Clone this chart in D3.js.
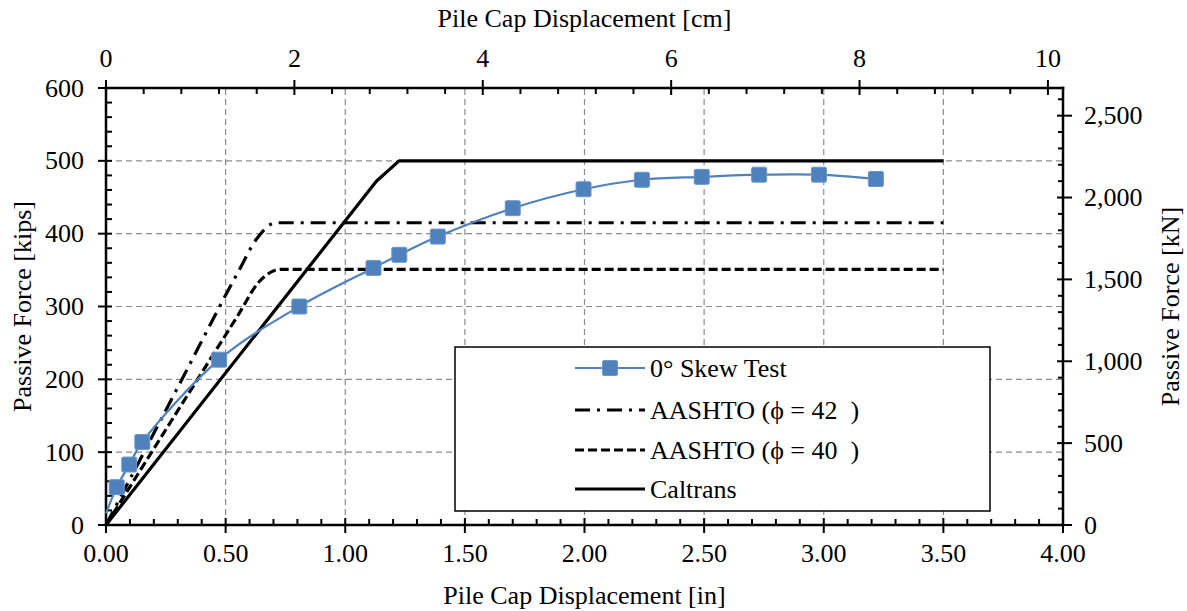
<!DOCTYPE html>
<html>
<head>
<meta charset="utf-8">
<script src="https://cdn.jsdelivr.net/npm/d3@7"></script>
<style>
  body { margin: 0; background: #fff; }
</style>
</head>
<body>
<div id="chart"></div>
<script>
// 0° skew test (in, kips) - first point is the start of the line, no marker
const skewDisp  = [0, 0.045, 0.097, 0.152, 0.473, 0.808, 1.118, 1.226, 1.387, 1.70, 1.996, 2.24, 2.49, 2.73, 2.98, 3.218];
const skewForce = [16, 52, 83, 114, 227, 300, 353, 371, 396, 435, 461, 474, 478, 481, 481, 475];

const aashto42Disp  = [0, 0.3, 0.55, 0.63, 0.71, 3.5];
const aashto42Force = [0, 189, 346, 393, 415, 415];

const aashto40Disp  = [0, 0.3, 0.55, 0.64, 0.73, 3.5];
const aashto40Force = [0, 157, 287, 334, 351, 351];

const caltransDisp  = [0, 1.13, 1.225, 3.5];
const caltransForce = [0, 472, 500, 500];

const legendLabels = ["0° Skew Test", "AASHTO (ϕ = 42  )", "AASHTO (ϕ = 40  )", "Caltrans"];

const inTicks   = [0, 0.5, 1, 1.5, 2, 2.5, 3, 3.5, 4];
const cmTicks   = [0, 2, 4, 6, 8, 10];
const kipsTicks = [0, 100, 200, 300, 400, 500, 600];
const kNTicks   = [0, 500, 1000, 1500, 2000, 2500];

let width = 1187, height = 611,
    margin = ({ top: 88, right: 124, bottom: 86, left: 106 });

const font = "Liberation Serif";
const fs = 26;

const svg = d3.select("#chart").append("svg")
  .attr("width", width).attr("height", height);

let x = d3.scaleLinear().domain([0, 4]).range([margin.left, width - margin.right]);
let y = d3.scaleLinear().domain([0, 600]).range([height - margin.bottom, margin.top]);
let xcm = d3.scaleLinear().domain([0, 4 * 2.54]).range(x.range());
let ykN = d3.scaleLinear().domain([0, 600 * 4.44822]).range(y.range());

const x0 = x.range()[0], x1 = x.range()[1], y0 = y.range()[0], y1 = y.range()[1];

// grid
const grid = svg.append("g").attr("stroke", "#8c8c8c").attr("stroke-width", 1.2).attr("stroke-dasharray", "6,4");
grid.selectAll(".gx").data(inTicks.filter(d => d > 0 && d < 4)).join("line")
  .attr("x1", d => x(d)).attr("x2", d => x(d)).attr("y1", y0).attr("y2", y1);
grid.selectAll(".gy").data(kipsTicks.filter(d => d > 0 && d < 600)).join("line")
  .attr("y1", d => y(d)).attr("y2", d => y(d)).attr("x1", x0).attr("x2", x1);

// axes
function axisLine(g, xa, ya, xb, yb) {
  g.append("line").attr("x1", xa).attr("y1", ya).attr("x2", xb).attr("y2", yb)
    .attr("stroke", "#000").attr("stroke-width", 2.5).attr("stroke-linecap", "square");
}
const ax = svg.append("g");
axisLine(ax, x0, y0, x1, y0);
axisLine(ax, x0, y1, x1, y1);
axisLine(ax, x0, y0, x0, y1);
axisLine(ax, x1, y0, x1, y1);

function ticks(vals, pos, fixed, orient, len1, len2) {
  // len1 outside, len2 inside
  ax.append("g").selectAll("line").data(vals).join("line")
    .attr("stroke", "#000").attr("stroke-width", 2)
    .each(function(d) {
      const p = pos(d), s = d3.select(this);
      if (orient === "bottom") s.attr("x1", p).attr("x2", p).attr("y1", fixed + len1).attr("y2", fixed - len2);
      if (orient === "top") s.attr("x1", p).attr("x2", p).attr("y1", fixed - len1).attr("y2", fixed + len2);
      if (orient === "left") s.attr("y1", p).attr("y2", p).attr("x1", fixed - len1).attr("x2", fixed + len2);
      if (orient === "right") s.attr("y1", p).attr("y2", p).attr("x1", fixed + len1).attr("x2", fixed - len2);
    });
}
// major & minor ticks
ticks(inTicks, x, y0, "bottom", 8, 7);
ticks(d3.range(0, 4.001, 0.1).filter(d => Math.abs(d * 2 - Math.round(d * 2)) > 1e-6), x, y0, "bottom", 0, 6);
ticks(cmTicks, xcm, y1, "top", 8, 7);
ticks(d3.range(0, 10.001, 0.4).filter(d => Math.abs(d / 2 - Math.round(d / 2)) > 1e-6), xcm, y1, "top", 0, 6);
ticks(kipsTicks, y, x0, "left", 8, 6);
ticks(d3.range(0, 600.1, 20).filter(d => d % 100 !== 0), y, x0, "left", 0, 6);
ticks(kNTicks, ykN, x1, "right", 9, 6);
ticks(d3.range(0, 2668, 100).filter(d => d % 500 !== 0), ykN, x1, "right", 0, 5);

function label(g) {
  return g.attr("font-family", font).attr("font-size", fs).attr("fill", "#000");
}

// tick labels
ax.append("g").selectAll("text").data(inTicks).join("text").call(label)
  .attr("x", d => x(d)).attr("y", y0 + 37).attr("text-anchor", "middle")
  .text(d => d.toFixed(2));
ax.append("g").selectAll("text").data(cmTicks).join("text").call(label)
  .attr("x", d => xcm(d)).attr("y", y1 - 21).attr("text-anchor", "middle")
  .text(d => d);
ax.append("g").selectAll("text").data(kipsTicks).join("text").call(label)
  .attr("x", x0 - 22).attr("y", d => y(d)).attr("dy", "0.33em").attr("text-anchor", "end")
  .text(d => d);
ax.append("g").selectAll("text").data(kNTicks).join("text").call(label)
  .attr("x", x1 + 21).attr("y", d => ykN(d)).attr("dy", "0.33em").attr("text-anchor", "start")
  .text(d3.format(","));

// axis titles
const cx = (x0 + x1) / 2, cy = (y0 + y1) / 2;
svg.append("text").call(label).attr("x", cx).attr("y", 27).attr("text-anchor", "middle")
  .text("Pile Cap Displacement [cm]");
svg.append("text").call(label).attr("x", cx).attr("y", 604).attr("text-anchor", "middle")
  .text("Pile Cap Displacement [in]");
svg.append("text").call(label).attr("transform", `translate(31,${cy}) rotate(-90)`).attr("text-anchor", "middle")
  .text("Passive Force [kips]");
svg.append("text").call(label).attr("transform", `translate(1179,${cy}) rotate(-90)`).attr("text-anchor", "middle")
  .text("Passive Force [kN]");

// series
const blue = "#4f81bd";
const styles = [
  { color: blue, w: 2.2, dash: null },
  { color: "#000", w: 3.2, dash: "15,7,3,7" },
  { color: "#000", w: 3.2, dash: "9,4" },
  { color: "#000", w: 3.2, dash: null }
];
const series = [
  { xs: skewDisp, ys: skewForce, curve: d3.curveCatmullRom.alpha(0.5) },
  { xs: aashto42Disp, ys: aashto42Force, curve: d3.curveMonotoneX },
  { xs: aashto40Disp, ys: aashto40Force, curve: d3.curveMonotoneX },
  { xs: caltransDisp, ys: caltransForce, curve: d3.curveLinear }
];
const plot = svg.append("g");
// draw Caltrans & AASHTO first, then the test on top
[3, 2, 1, 0].forEach(i => {
  const s = series[i], st = styles[i];
  const pts = s.xs.map((v, j) => [v, s.ys[j]]);
  plot.append("path")
    .attr("d", d3.line().x(d => x(d[0])).y(d => y(d[1])).curve(s.curve)(pts))
    .attr("fill", "none").attr("stroke", st.color).attr("stroke-width", st.w)
    .attr("stroke-dasharray", st.dash).attr("stroke-linejoin", "round");
});
const ms = 15;
plot.append("g").selectAll("rect")
  .data(skewDisp.map((v, j) => [v, skewForce[j]]).filter(d => d[0] > 0))
  .join("rect")
  .attr("x", d => x(d[0]) - ms / 2).attr("y", d => y(d[1]) - ms / 2)
  .attr("width", ms).attr("height", ms).attr("rx", 1.5)
  .attr("fill", blue).attr("stroke", "#6b97cc").attr("stroke-width", 1);

// legend
const lg = svg.append("g");
lg.append("rect").attr("x", 455).attr("y", 347).attr("width", 535).attr("height", 164)
  .attr("fill", "#fff").attr("stroke", "#000").attr("stroke-width", 1.5);
const ly = [368, 410, 450, 489];
legendLabels.forEach((lab, i) => {
  const st = styles[i];
  lg.append("line").attr("x1", 575).attr("x2", 645).attr("y1", ly[i]).attr("y2", ly[i])
    .attr("stroke", st.color).attr("stroke-width", st.w).attr("stroke-dasharray", st.dash);
  if (i === 0) lg.append("rect").attr("x", 610 - ms / 2).attr("y", ly[i] - ms / 2).attr("width", ms).attr("height", ms)
    .attr("rx", 1.5).attr("fill", blue).attr("stroke", "#6b97cc");
  lg.append("text").call(label).attr("x", 650).attr("y", ly[i]).attr("dy", "0.33em")
    .style("white-space", "pre").text(lab);
});
</script>
</body>
</html>
